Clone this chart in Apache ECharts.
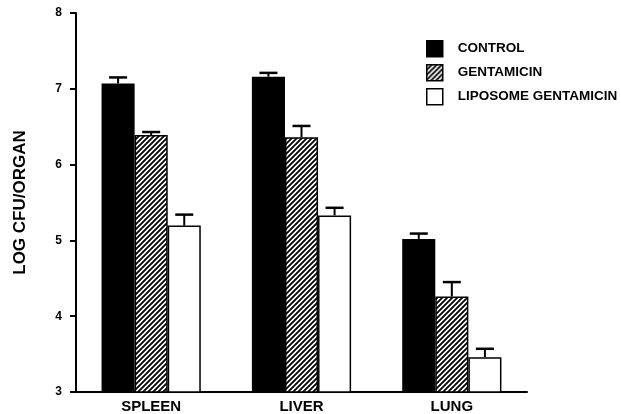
<!DOCTYPE html>
<html>
<head>
<meta charset="utf-8">
<script src="https://cdn.jsdelivr.net/npm/echarts@6/dist/echarts.min.js"></script>
<style>html,body{margin:0;padding:0;background:#fff;}#c{width:621px;height:414px;}</style>
</head>
<body>
<div id="c"></div>
<script>
var categories = ['SPLEEN', 'LIVER', 'LUNG'];
var seriesNames = ['CONTROL', 'GENTAMICIN', 'LIPOSOME GENTAMICIN'];
var controlValues = [7.07, 7.16, 5.02];
var gentamicinValues = [6.39, 6.36, 4.26];
var liposomeValues = [5.195, 5.33, 3.46];
var controlErr = [0.08, 0.05, 0.07];
var gentamicinErr = [0.04, 0.15, 0.19];
var liposomeErr = [0.145, 0.10, 0.11];
var yTicks = [3, 4, 5, 6, 7, 8];

var FONT = '"Liberation Sans", Arial, Helvetica, sans-serif';

function makeHatch() {
  var c = document.createElement('canvas');
  c.width = 5; c.height = 5;
  var ctx = c.getContext('2d');
  ctx.fillStyle = '#fff';
  ctx.fillRect(0, 0, 5, 5);
  ctx.strokeStyle = '#000';
  ctx.lineWidth = 1.8;
  ctx.beginPath();
  ctx.moveTo(-1, 6); ctx.lineTo(6, -1);
  ctx.moveTo(-1, 1); ctx.lineTo(1, -1);
  ctx.moveTo(4, 6); ctx.lineTo(6, 4);
  ctx.stroke();
  return c;
}
var hatch = makeHatch();

var BAR_FRAC = 0.22;
var allValues = [controlValues, gentamicinValues, liposomeValues];
var allErr = [controlErr, gentamicinErr, liposomeErr];
var fills = ['#000', {image: hatch, repeat: 'repeat'}, '#fff'];

var series = [];
for (var s = 0; s < 3; s++) {
  series.push({
    name: seriesNames[s],
    type: 'bar',
    barWidth: (BAR_FRAC * 100) + '%',
    barGap: '0%',
    data: allValues[s],
    itemStyle: {color: fills[s], borderColor: '#000', borderWidth: 1.5},
    z: 2
  });
}
for (var s2 = 0; s2 < 3; s2++) {
  (function (si) {
    var data = [];
    for (var i = 0; i < categories.length; i++) {
      data.push([i, allValues[si][i], allValues[si][i] + allErr[si][i]]);
    }
    series.push({
      type: 'custom',
      name: seriesNames[si] + ' err',
      data: data,
      z: 3,
      silent: true,
      encode: {x: 0, y: [1, 2]},
      renderItem: function (params, api) {
        var ci = api.value(0);
        var base = api.coord([ci, api.value(1)]);
        var top = api.coord([ci, api.value(2)]);
        var catW = api.size([1, 0])[0];
        var off = catW * BAR_FRAC * (si - 1);
        var x = base[0] + off;
        var half = 9;
        return {
          type: 'group',
          children: [
            {type: 'line', shape: {x1: x, y1: base[1], x2: x, y2: top[1]}, style: {stroke: '#000', lineWidth: 2}},
            {type: 'line', shape: {x1: x - half, y1: top[1], x2: x + half, y2: top[1]}, style: {stroke: '#000', lineWidth: 2.5}}
          ]
        };
      }
    });
  })(s2);
}

var chart = echarts.init(document.getElementById('c'), null, {renderer: 'canvas'});
chart.setOption({
  animation: false,
  backgroundColor: '#fff',
  grid: {left: 76, right: 94, top: 13, bottom: 22, containLabel: false},
  legend: {
    data: seriesNames,
    orient: 'vertical',
    left: 426,
    top: 40,
    padding: 0,
    itemWidth: 16,
    itemHeight: 16,
    itemGap: 6.5,
    icon: 'rect',
    textStyle: {fontFamily: FONT, fontWeight: 'bold', fontSize: 13.5, lineHeight: 16, color: '#000', padding: [0, 0, 0, 10]},
    itemStyle: {borderColor: '#000', borderWidth: 1.5}
  },
  xAxis: {
    type: 'category',
    data: categories,
    axisLine: {lineStyle: {color: '#000', width: 2}},
    axisTick: {show: false},
    axisLabel: {fontFamily: FONT, fontWeight: 'bold', fontSize: 15, color: '#000', margin: 7}
  },
  yAxis: {
    type: 'value',
    min: yTicks[0],
    max: yTicks[yTicks.length - 1],
    interval: 1,
    name: 'LOG CFU/ORGAN',
    nameLocation: 'middle',
    nameGap: 47,
    nameTextStyle: {fontFamily: FONT, fontWeight: 'bold', fontSize: 17, color: '#000'},
    splitLine: {show: false},
    axisLine: {show: true, lineStyle: {color: '#000', width: 2}},
    axisTick: {show: true, length: 6, lineStyle: {color: '#000', width: 2}},
    axisLabel: {fontFamily: FONT, fontWeight: 'bold', fontSize: 12, color: '#000', margin: 14}
  },
  series: series
});
</script>
</body>
</html>
